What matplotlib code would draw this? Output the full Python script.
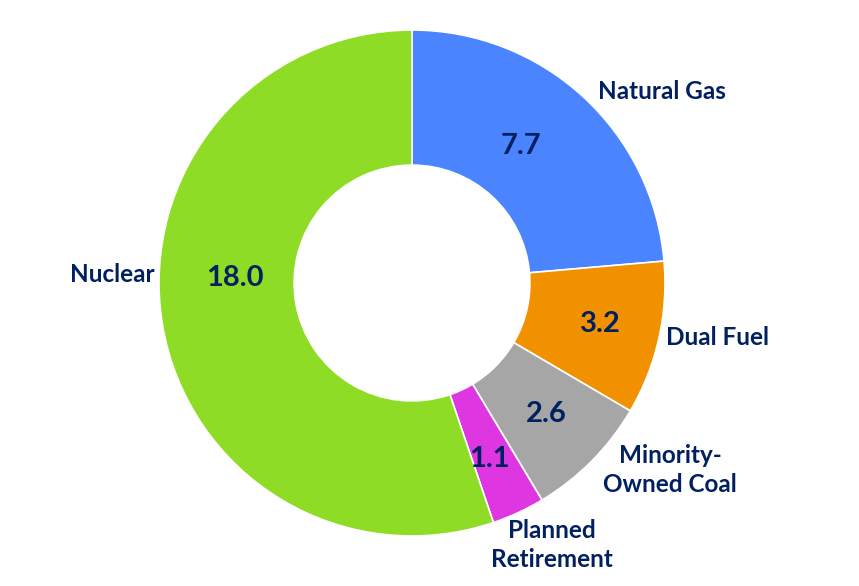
import matplotlib.pyplot as plt
import numpy as np

# capacity by fuel type, clockwise from 12 o'clock
categories = ["Natural Gas", "Dual Fuel", "Minority-\nOwned Coal", "Planned\nRetirement", "Nuclear"]
values = [7.7, 3.2, 2.6, 1.1, 18.0]
colors = ["#4A84FF", "#F29100", "#A6A6A6", "#DE36E0", "#8EDC25"]

# label layout (angle offset from wedge middle in degrees, radius)
label_pos = [(-10, 1.245), (2.5, 1.225), (8.8, 1.26), (3.2, 1.175), (-11, 1.186)]
value_pos = [(4, 0.69), (0.5, 0.76), (0.5, 0.74), (-1, 0.76), (-11, 0.70)]

text_color = "#002060"
plt.rcParams['font.family'] = ['Lato', 'DejaVu Sans']

fig = plt.figure(figsize=(8.59, 5.86), dpi=100)
ax = fig.add_axes([0, 0, 1, 1])

wedges, _ = ax.pie(values, colors=colors, startangle=90, counterclock=False,
                   wedgeprops=dict(width=0.534, edgecolor="white", linewidth=1.2))

for w, name, val, (off, r), (voff, vr) in zip(wedges, categories, values, label_pos, value_pos):
  mid = np.deg2rad((w.theta1 + w.theta2) / 2)
  vang = mid + np.deg2rad(voff)
  ax.text(vr * np.cos(vang), vr * np.sin(vang), "{:.1f}".format(val), ha="center", va="center",
          fontsize=21, fontweight="bold", color=text_color)
  ang = mid + np.deg2rad(off)
  ax.text(r * np.cos(ang), r * np.sin(ang), name, ha="center", va="center",
          fontsize=17.5, fontweight="bold", color=text_color, linespacing=1.32)

ax.set_xlim(-412 / 253, (859 - 412) / 253)
ax.set_ylim(-(586 - 283) / 253, 283 / 253)
ax.set_aspect("equal")
ax.axis("off")

fig.savefig("out.png", dpi=100)
